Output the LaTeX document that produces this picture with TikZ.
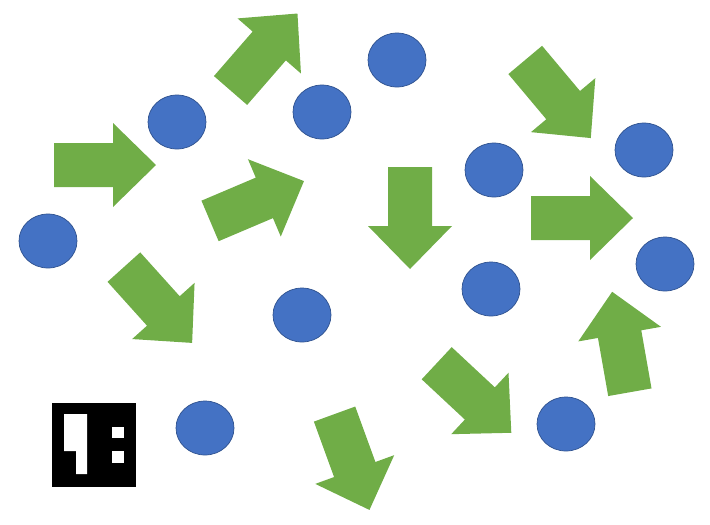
\documentclass[tikz,border=0pt]{standalone}
\usepackage{tikz}
\definecolor{dotblue}{HTML}{4472C4}
\definecolor{dotedge}{HTML}{2F528F}
\definecolor{arrowgreen}{HTML}{70AD47}
% block arrow: centre x, centre y, angle
\newcommand{\blockarrow}[3]{\fill[arrowgreen, shift={(#1,#2)}, rotate=#3] (-51,-22) -- (8,-22) -- (8,-42) -- (51,0) -- (8,42) -- (8,22) -- (-51,22) -- cycle;}

\begin{document}
\begin{tikzpicture}[x=0.03cm, y=-0.03cm]
	\tikzstyle{dot}=[fill=dotblue, draw=dotedge, line width=0.6pt]
	\useasboundingbox (0,0) rectangle (710,524);
	
	% dots
	\foreach \px/\py in {48/241, 177/122, 322/112, 397/60, 494/170, 644/150, 665/264, 491/289, 302/315, 205/428, 566/424}
		\draw[dot] (\px,\py) ellipse [x radius=29, y radius=27];
	
	% arrows
	\blockarrow{105}{165}{0}
	\blockarrow{264}{52}{49}
	\blockarrow{158}{305}{-48}
	\blockarrow{257}{201}{23}
	\blockarrow{410}{218}{-90}
	\blockarrow{558}{99}{-50}
	\blockarrow{582}{218}{0}
	\blockarrow{621}{342}{100}
	\blockarrow{474}{398}{-43}
	\blockarrow{352}{462}{-70}
	
	% marker
	\fill[black] (52,403) rectangle (136,487);
	\fill[white] (64,414) -- (87,414) -- (87,474) -- (76,474) -- (76,451) -- (64,451) -- cycle;
	\fill[white] (112,427) rectangle (124,438);
	\fill[white] (112,451) rectangle (124,463);
	
\end{tikzpicture}
\end{document}
